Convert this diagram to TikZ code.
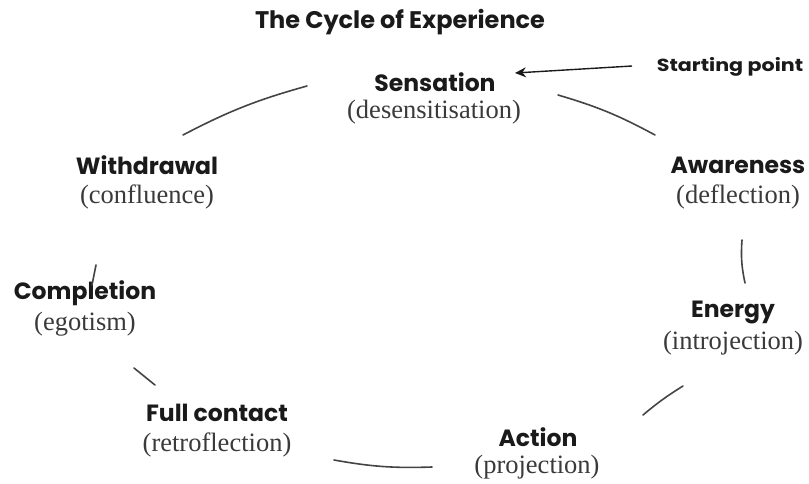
\documentclass[tikz,border=0pt]{standalone}
\usepackage{fontspec}
\setmainfont{Liberation Serif}
\newfontfamily\labelfont{Poppins}
\usetikzlibrary{arrows.meta}
\definecolor{ink}{HTML}{1A1A1A}
\definecolor{soft}{HTML}{3A3A3A}
\definecolor{rim}{HTML}{444444}
\tikzset{
  stage/.style={font=\labelfont\bfseries\fontsize{23.5}{25}\selectfont, text=ink, inner sep=0pt},
  defence/.style={font=\fontsize{26.5}{28}\selectfont, text=soft, inner sep=0pt},
  rimline/.style={draw=rim, line width=1.6pt, line cap=round},
}
\begin{document}
\begin{tikzpicture}[x=1pt,y=-1pt]
\useasboundingbox (0,0) rectangle (809,483);

% title
\node[font=\labelfont\bfseries\fontsize{24}{26}\selectfont, text=ink, inner sep=0pt] (title) at (400,22) {The Cycle of Experience};

% stages of the cycle with their interruptions
\node[stage] (sens) at (435,82) {Sensation};
\node[defence] (sensd) at (434,112) {(desensitisation)};
\node[stage] (aware) at (738,165) {Awareness};
\node[defence] (awared) at (738,197) {(deflection)};
\node[stage] (energy) at (733,312) {Energy};
\node[defence] (energyd) at (733,343) {(introjection)};
\node[stage] (action) at (538,437) {Action};
\node[defence] (actiond) at (537,467) {(projection)};
\node[stage] (full) at (217,413) {Full contact};
\node[defence] (fulld) at (217,445) {(retroflection)};
\node[stage] (compl) at (85,293) {Completion};
\node[defence] (compld) at (85,324) {(egotism)};
\node[stage] (withd) at (147,165) {Withdrawal};
\node[defence] (withdd) at (147,197) {(confluence)};

% starting point marker
\node[font=\labelfont\bfseries\fontsize{17.5}{19}\selectfont, text=ink, inner sep=0pt] (start) at (730,67) {\scalebox{1.18}[1]{Starting point}};
\coordinate (tail) at (632,66);
\coordinate (tip) at (515,73);
\draw[line width=1.4pt, ink, -{Stealth[length=11pt,width=10pt]}] (tail) -- (tip);

% arc segments of the cycle
\coordinate (s1) at (558,95);  \coordinate (s2) at (655,135);
\coordinate (a1) at (742,240); \coordinate (a2) at (745,283);
\coordinate (e1) at (683,386); \coordinate (e2) at (643,415);
\coordinate (c1) at (432,467); \coordinate (c2) at (334,460);
\coordinate (f1) at (155,385); \coordinate (f2) at (134,368);
\coordinate (p1) at (92,285);  \coordinate (p2) at (96,265);
\coordinate (w1) at (183,135); \coordinate (w2) at (307,86);

\draw[rimline] (s1) to[bend left=6] (s2);
\draw[rimline] (a1) to[bend right=8] (a2);
\draw[rimline] (e1) to[bend right=4] (e2);
\draw[rimline] (c1) to[bend left=6] (c2);
\draw[rimline] (f1) -- (f2);
\draw[rimline] (p1) -- (p2);
\draw[rimline] (w1) to[bend left=6] (w2);
\end{tikzpicture}
\end{document}
